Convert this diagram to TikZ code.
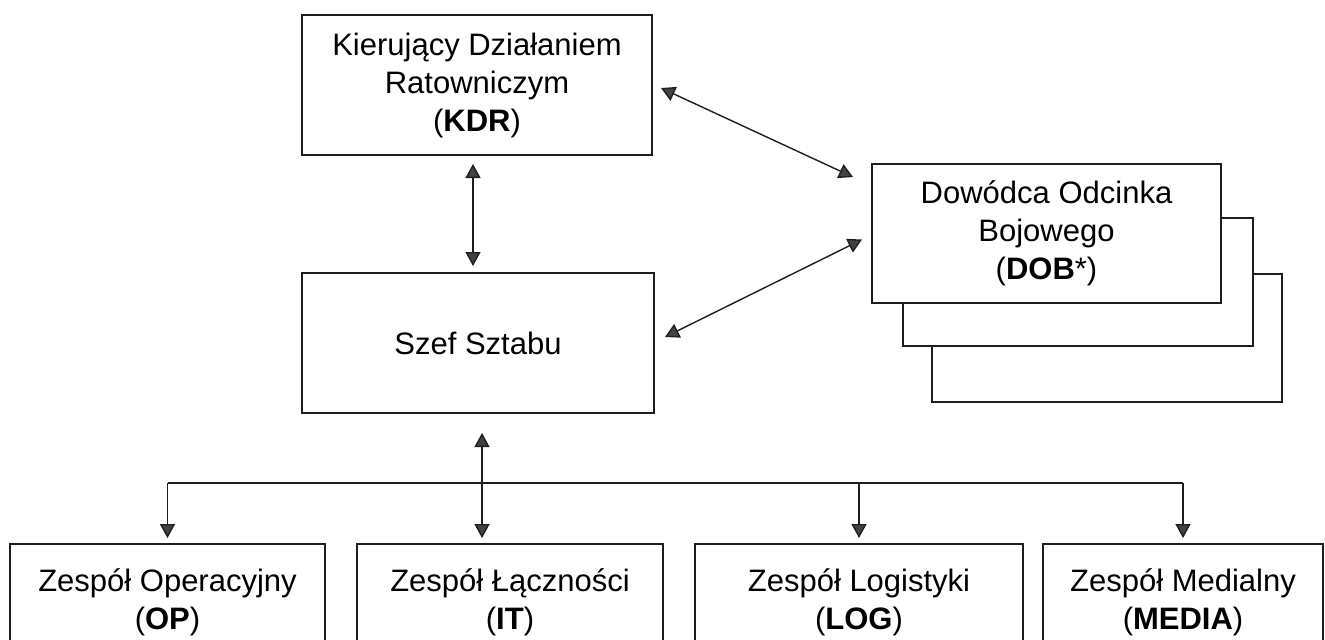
\documentclass[tikz,border=0pt]{standalone}
\usepackage{fontspec}
\setmainfont{Liberation Sans}
\usetikzlibrary{positioning,arrows.meta,calc}
\definecolor{ink}     {HTML}{1E1E1E}
\definecolor{headgray}{HTML}{3E4443}
\tikzset{
  % --- nodes
  box/.style  = {draw=ink, line width=1pt, fill=white, align=center, inner sep=0pt,
                 font=\fontsize{15.5}{19}\selectfont},
  unit/.style = {box, minimum width=175pt, minimum height=70pt},
  team/.style = {box, anchor=north, minimum height=58pt},
  % --- edges
  tri/.tip    = {Triangle[length=7pt, width=7.5pt, fill=headgray]},
  line/.style = {draw=ink, line width=0.7pt},
  link/.style = {line, -tri},
  both/.style = {line, tri-tri},
}

\begin{document}
\begin{tikzpicture}[x=0.5pt,y=-0.5pt]
  % frame
  \useasboundingbox (0,0) rectangle (1325,639);
  \clip (0,0) rectangle (1325,639);

  % command and staff
  \node[unit] (kdr) at (477,85) {Kierujący Działaniem\\Ratowniczym\\(\textbf{KDR})};
  \node[unit, minimum width=176pt] (szef) at (478,343) {Szef Sztabu};

  % sector commanders, stacked back to front
  \node[unit, minimum height=64pt] (dob3) at (1107,338) {};
  \node[unit, minimum height=64pt] (dob2) at (1077.5,282) {};
  \node[unit, minimum width=174.5pt, minimum height=69.5pt] (dob) at (1046.5,233.5)
    {Dowódca Odcinka\\Bojowego\\(\textbf{DOB}*)};

  % teams along the bottom
  \node[team, minimum width=157.5pt] (op)    at (167.5,543) {Zespół Operacyjny\\(\textbf{OP})};
  \node[team, minimum width=153pt]   (it)    at (510,543)   {Zespół Łączności\\(\textbf{IT})};
  \node[team, minimum width=164pt]   (log)   at (859,543)   {Zespół Logistyki\\(\textbf{LOG})};
  \node[team, minimum width=140pt]   (media) at (1183,543)  {Zespół Medialny\\(\textbf{MEDIA})};

  % links between units
  \draw[both, shorten <=4pt, shorten >=3pt] ([xshift=-2pt]kdr.south) -- ([xshift=-2.5pt]szef.north);
  \draw[both] ([xshift=4pt,yshift=-1.5pt]kdr.east) -- ([xshift=-9pt,yshift=-7pt]dob.north west);
  \draw[both] ([xshift=5pt,yshift=3pt]szef.east) -- ([xshift=-4.5pt,yshift=-3pt]dob.west);

  % bus to the teams
  \coordinate (bus) at (482,483);
  \draw[both, shorten <=9.5pt, shorten >=2.5pt] (szef.south -| bus) -- (bus |- it.north);
  \draw[line] (op.north |- bus) -- (media.north |- bus);
  \foreach \t in {op,log,media}
    \draw[link, shorten >=2.5pt] (\t.north |- bus) -- (\t.north);
\end{tikzpicture}
\end{document}
